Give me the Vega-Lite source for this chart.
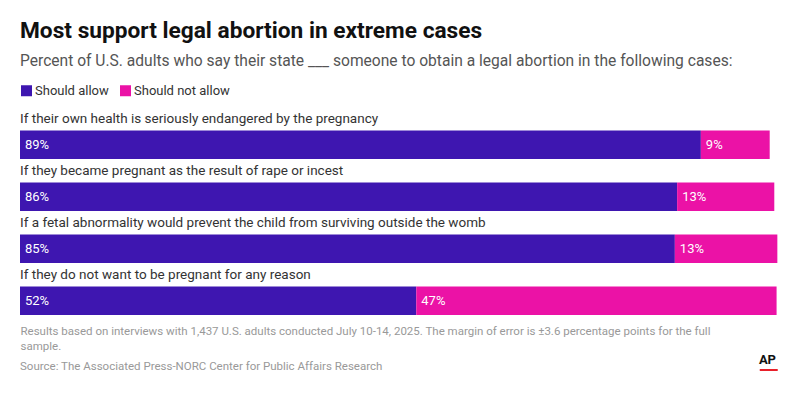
{
  "$schema": "https://vega.github.io/schema/vega-lite/v6.json",
  "background": "white",
  "padding": {"left": 20, "top": 20, "right": 15, "bottom": 0},
  "autosize": {"type": "pad"},
  "title": {
    "text": "Most support legal abortion in extreme cases",
    "subtitle": "Percent of U.S. adults who say their state ___ someone to obtain a legal abortion in the following cases:",
    "anchor": "start",
    "font": "Roboto",
    "fontSize": 22.7,
    "fontWeight": "bold",
    "color": "#111111",
    "subtitleFont": "Roboto",
    "subtitleFontSize": 15.6,
    "subtitleColor": "#555555",
    "subtitlePadding": 11,
    "offset": 14.5
  },
  "config": {"view": {"stroke": null}, "font": "Roboto"},
  "datasets": {
    "bars": [
      {"question": "If their own health is seriously endangered by the pregnancy", "order": 1, "response": "Should allow", "value": 89, "label": "89%"},
      {"question": "If their own health is seriously endangered by the pregnancy", "order": 1, "response": "Should not allow", "value": 9, "label": "9%"},
      {"question": "If they became pregnant as the result of rape or incest", "order": 2, "response": "Should allow", "value": 85.9, "label": "86%"},
      {"question": "If they became pregnant as the result of rape or incest", "order": 2, "response": "Should not allow", "value": 12.7, "label": "13%"},
      {"question": "If a fetal abnormality would prevent the child from surviving outside the womb", "order": 3, "response": "Should allow", "value": 85.6, "label": "85%"},
      {"question": "If a fetal abnormality would prevent the child from surviving outside the womb", "order": 3, "response": "Should not allow", "value": 13.4, "label": "13%"},
      {"question": "If they do not want to be pregnant for any reason", "order": 4, "response": "Should allow", "value": 51.8, "label": "52%"},
      {"question": "If they do not want to be pregnant for any reason", "order": 4, "response": "Should not allow", "value": 47.1, "label": "47%"}
    ]
  },
  "spacing": 1,
  "vconcat": [
    {
      "width": 765,
      "height": 208,
      "data": {"name": "bars"},
      "transform": [
        {"stack": "value", "groupby": ["question"], "sort": [{"field": "response", "order": "ascending"}], "as": ["v0", "v1"]}
      ],
      "encoding": {
        "y": {"field": "question", "type": "nominal", "sort": {"field": "order"}, "scale": {"paddingInner": 0, "paddingOuter": 0}, "axis": null}
      },
      "layer": [
        {
          "mark": {"type": "bar", "height": 28.5, "yOffset": 11.75},
          "encoding": {
            "x": {
              "field": "v0", "type": "quantitative", "scale": {"domain": [0, 100]},
              "axis": {
                "title": ["Results based on interviews with 1,437 U.S. adults conducted July 10-14, 2025. The margin of error is ±3.6 percentage points for the full", "sample."],
                "domain": false, "ticks": false, "labels": false, "grid": false,
                "titleAnchor": "start", "titleAlign": "left", "titleFont": "Roboto", "titleFontSize": 11.5,
                "titleFontWeight": "normal", "titleColor": "#999999", "titlePadding": 10.5, "titleLineHeight": 15
              }
            },
            "x2": {"field": "v1"},
            "color": {
              "field": "response", "type": "nominal",
              "scale": {"domain": ["Should allow", "Should not allow"], "range": ["#3e16b0", "#eb12a6"]},
              "legend": {
                "title": null, "orient": "none", "legendX": 0, "legendY": -23, "direction": "horizontal",
                "symbolType": "square", "symbolSize": 121, "symbolStrokeWidth": 0, "symbolOpacity": 1,
                "labelFont": "Roboto", "labelFontSize": 13, "labelColor": "#333333", "labelOffset": 2,
                "columnPadding": 10, "padding": 0
              }
            }
          }
        },
        {
          "mark": {"type": "text", "align": "left", "baseline": "middle", "dx": 5, "yOffset": 11.75, "color": "#ffffff", "fontSize": 13},
          "encoding": {
            "x": {"field": "v0", "type": "quantitative"},
            "text": {"field": "label"}
          }
        },
        {
          "transform": [{"filter": "datum.response == 'Should allow'"}],
          "mark": {"type": "text", "align": "left", "baseline": "alphabetic", "yOffset": -10.5, "color": "#333333", "fontSize": 13.5},
          "encoding": {
            "x": {"datum": 0, "type": "quantitative"},
            "text": {"field": "question"}
          }
        }
      ]
    },
    {
      "width": 765,
      "height": 20,
      "layer": [
        {
          "data": {"values": [{"text": "Source: The Associated Press-NORC Center for Public Affairs Research"}]},
          "mark": {"type": "text", "align": "left", "baseline": "middle", "fontSize": 11.5, "color": "#999999"},
          "encoding": {
            "x": {"datum": 0, "type": "quantitative", "scale": {"domain": [0, 100]}, "axis": null},
            "text": {"field": "text"}
          }
        },
        {
          "data": {"values": [{"text": "AP"}]},
          "mark": {"type": "text", "align": "right", "baseline": "middle", "dx": -9, "yOffset": -7.5, "fontSize": 13, "fontWeight": "bold", "font": "Roboto", "color": "#111111"},
          "encoding": {
            "x": {"datum": 100, "type": "quantitative"},
            "text": {"field": "text"}
          }
        },
        {
          "data": {"values": [{"mark": "underline"}]},
          "mark": {"type": "rule", "color": "#e8202a", "strokeWidth": 2, "yOffset": 3},
          "encoding": {
            "x": {"datum": 96.7, "type": "quantitative"},
            "x2": {"datum": 99.05}
          }
        }
      ]
    }
  ]
}
